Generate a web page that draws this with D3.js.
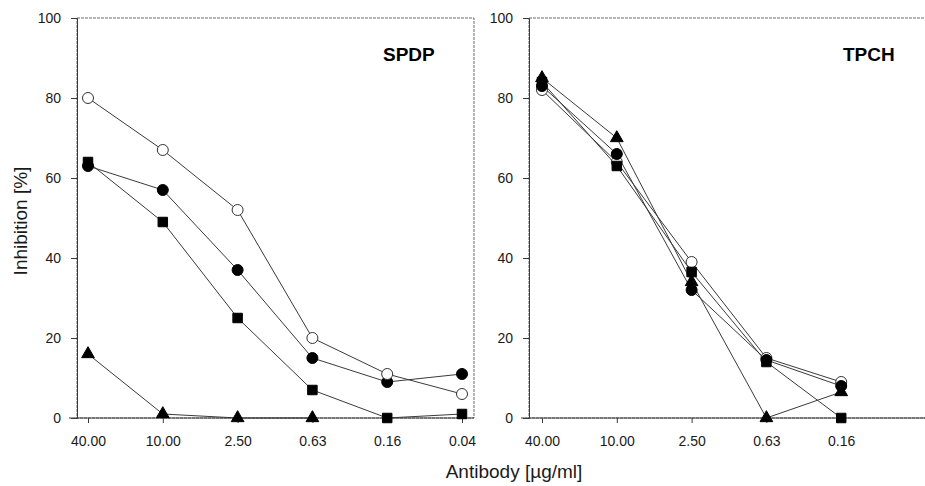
<!DOCTYPE html>
<html>
<head>
<meta charset="utf-8">
<script src="https://cdn.jsdelivr.net/npm/d3@7"></script>
<style>
  body { margin: 0; background: #ffffff; }
  svg { display: block; }
</style>
</head>
<body>
<svg id="chart" width="925" height="486"></svg>
<script>
// antibody dilutions (x categories)
const dosesSpdp = ['40.00', '10.00', '2.50', '0.63', '0.16', '0.04'];
const dosesTpch = ['40.00', '10.00', '2.50', '0.63', '0.16'];
const yTicks = [0, 20, 40, 60, 80, 100];

// SPDP panel, inhibition [%]
const spdpOpenCircle = [80, 67, 52, 20, 11, 6];
const spdpCircle =     [63, 57, 37, 15, 9, 11];
const spdpSquare =     [64, 49, 25, 7, 0, 1];
const spdpTriangle =   [16, 1, 0, 0];

// TPCH panel, inhibition [%]
const tpchOpenCircle = [82, 64, 39, 15, 9];
const tpchCircle =     [83, 66, 32, 14.5, 8];
const tpchSquare =     [84, 63, 36.5, 14, 0];
const tpchTriangle =   [85, 70, 34, 0, 6.5];

const INK = '#1a1a1a';
const LINE = '#3a3a3a';
const FRAME = '#6a6a6a';
const FONT = "'Liberation Sans', Arial, sans-serif";

const svg = d3.select('svg#chart');

const y = d3.scaleLinear().domain([0, 100]).range([418, 18]);

function draw_panel(opts) {
    const { doses, series, left, right, first, title, titleX } = opts;

    // both panels share the same 6-slot spacing
    const x = d3.scalePoint()
        .domain(d3.range(6))
        .range([first, first + 5 * 74.8]);

    const g = svg.append('g');

    // frame
    g.append('rect')
        .attr('x', left).attr('y', y(100))
        .attr('width', right - left).attr('height', y(0) - y(100))
        .attr('fill', 'none')
        .attr('stroke', FRAME)
        .attr('stroke-width', 1)
        .attr('stroke-dasharray', '3,1');

    const yAxis = g.append('g')
        .attr('transform', `translate(${left},0)`)
        .call(d3.axisLeft(y).tickValues(yTicks).tickSize(6).tickPadding(10));

    const xAxis = g.append('g')
        .attr('transform', `translate(0,${y(0)})`)
        .call(d3.axisBottom(x)
            .tickValues(d3.range(doses.length))
            .tickFormat(i => doses[i])
            .tickSize(5).tickPadding(13));

    xAxis.select('.domain').remove();
    xAxis.append('line')
        .attr('x1', left - 8).attr('x2', right)
        .attr('y1', 0).attr('y2', 0)
        .attr('stroke', LINE);

    [yAxis, xAxis].forEach(a => {
        a.selectAll('text')
            .attr('fill', INK)
            .style('font-family', FONT)
            .style('font-size', '14px');
        a.selectAll('.tick line').attr('stroke', LINE);
    });
    yAxis.select('.domain').attr('stroke', LINE);

    const line = d3.line()
        .x((d, i) => x(i))
        .y(d => y(d));

    series.forEach(s => {
        g.append('path')
            .datum(s.values)
            .attr('fill', 'none')
            .attr('stroke', LINE)
            .attr('stroke-width', 1)
            .attr('d', line);
    });

    series.forEach(s => {
        g.append('g').selectAll('path')
            .data(s.values)
            .join('path')
            .attr('transform', (d, i) => `translate(${x(i)},${y(d)})`)
            .attr('d', d3.symbol().type(s.shape).size(s.size))
            .attr('fill', s.open ? '#ffffff' : '#000000')
            .attr('stroke', s.open ? '#333333' : '#000000')
            .attr('stroke-width', 1);
    });

    g.append('text')
        .attr('x', titleX).attr('y', 61)
        .text(title)
        .attr('fill', '#000')
        .style('font-family', FONT)
        .style('font-weight', 'bold')
        .style('font-size', '19px');
}

draw_panel({
    doses: dosesSpdp,
    left: 77, right: 474, first: 88,
    title: 'SPDP', titleX: 383,
    series: [
        { values: spdpTriangle,   shape: d3.symbolTriangle, size: 70, open: false },
        { values: spdpSquare,     shape: d3.symbolSquare,   size: 90, open: false },
        { values: spdpCircle,     shape: d3.symbolCircle,   size: 95, open: false },
        { values: spdpOpenCircle, shape: d3.symbolCircle,   size: 95, open: true }
    ]
});

draw_panel({
    doses: dosesTpch,
    left: 529, right: 940, first: 542,
    title: 'TPCH', titleX: 843,
    series: [
        { values: tpchOpenCircle, shape: d3.symbolCircle,   size: 95, open: true },
        { values: tpchSquare,     shape: d3.symbolSquare,   size: 90, open: false },
        { values: tpchCircle,     shape: d3.symbolCircle,   size: 95, open: false },
        { values: tpchTriangle,   shape: d3.symbolTriangle, size: 70, open: false }
    ]
});

// axis titles
svg.append('text')
    .attr('x', 514).attr('y', 478)
    .attr('text-anchor', 'middle')
    .text('Antibody [µg/ml]')
    .attr('fill', INK)
    .style('font-family', FONT)
    .style('font-size', '19px');

svg.append('text')
    .attr('transform', 'translate(27,221) rotate(-90)')
    .attr('text-anchor', 'middle')
    .text('Inhibition [%]')
    .attr('fill', INK)
    .style('font-family', FONT)
    .style('font-size', '19px');
</script>
</body>
</html>
